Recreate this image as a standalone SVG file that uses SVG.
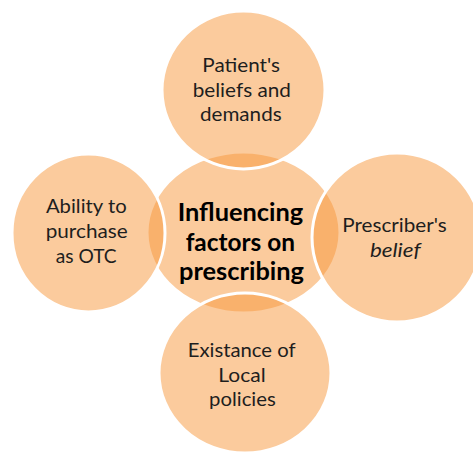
<svg xmlns="http://www.w3.org/2000/svg" width="473" height="452" viewBox="0 0 473 452">
  <style>
    .bubble { fill: #F8983C; fill-opacity: 0.5; stroke: #FFFFFF; stroke-width: 3; }
    .lbl { font-family: Lato, "Open Sans", "Liberation Sans", sans-serif; font-size: 19px; fill: #1E1E1E; text-anchor: middle; }
    .hub { font-family: Lato, "Open Sans", "Liberation Sans", sans-serif; font-size: 24px; font-weight: bold; fill: #000000; text-anchor: middle; }
  </style>
  <rect width="473" height="452" fill="#FFFFFF"/>
  <g id="center">
    <ellipse class="bubble" cx="243.5" cy="232.5" rx="96.5" ry="80.5"/>
  </g>
  <g id="top">
    <ellipse class="bubble" cx="243.5" cy="90" rx="81.5" ry="79"/>
  </g>
  <g id="left">
    <ellipse class="bubble" cx="88.5" cy="233" rx="76.5" ry="79"/>
  </g>
  <g id="right">
    <ellipse class="bubble" cx="397" cy="237.5" rx="85" ry="84.5"/>
  </g>
  <g id="bottom">
    <ellipse class="bubble" cx="245" cy="373" rx="86" ry="80"/>
  </g>
  <g id="connectors"></g>
  <g id="labels">
    <g id="center-label">
      <text class="hub" x="240.5" y="221" textLength="125.6" lengthAdjust="spacingAndGlyphs">Influencing</text>
      <text class="hub" x="240.3" y="251" textLength="109.3" lengthAdjust="spacingAndGlyphs">factors on</text>
      <text class="hub" x="241.5" y="280" textLength="125" lengthAdjust="spacingAndGlyphs">prescribing</text>
    </g>
    <g id="top-label">
      <text class="lbl" x="241.2" y="71.7" textLength="77.7" lengthAdjust="spacingAndGlyphs">Patient's</text>
      <text class="lbl" x="241.8" y="96.5" textLength="98.3" lengthAdjust="spacingAndGlyphs">beliefs and</text>
      <text class="lbl" x="240.8" y="120.7" textLength="81.7" lengthAdjust="spacingAndGlyphs">demands</text>
    </g>
    <g id="left-label">
      <text class="lbl" x="86.3" y="213.3" textLength="80.7" lengthAdjust="spacingAndGlyphs">Ability to</text>
      <text class="lbl" x="86.7" y="237.8" textLength="82" lengthAdjust="spacingAndGlyphs">purchase</text>
      <text class="lbl" x="86.2" y="263.3" textLength="61" lengthAdjust="spacingAndGlyphs">as OTC</text>
    </g>
    <g id="right-label">
      <text class="lbl" x="394.5" y="232.3" textLength="104.4" lengthAdjust="spacingAndGlyphs">Prescriber's</text>
      <text class="lbl" x="395.3" y="256.7" textLength="50.7" lengthAdjust="spacingAndGlyphs" font-style="italic">belief</text>
    </g>
    <g id="bottom-label">
      <text class="lbl" x="241.7" y="356.7" textLength="108" lengthAdjust="spacingAndGlyphs">Existance of</text>
      <text class="lbl" x="242" y="381.7" textLength="47.4" lengthAdjust="spacingAndGlyphs">Local</text>
      <text class="lbl" x="242.4" y="406" textLength="66.7" lengthAdjust="spacingAndGlyphs">policies</text>
    </g>
  </g>
</svg>
